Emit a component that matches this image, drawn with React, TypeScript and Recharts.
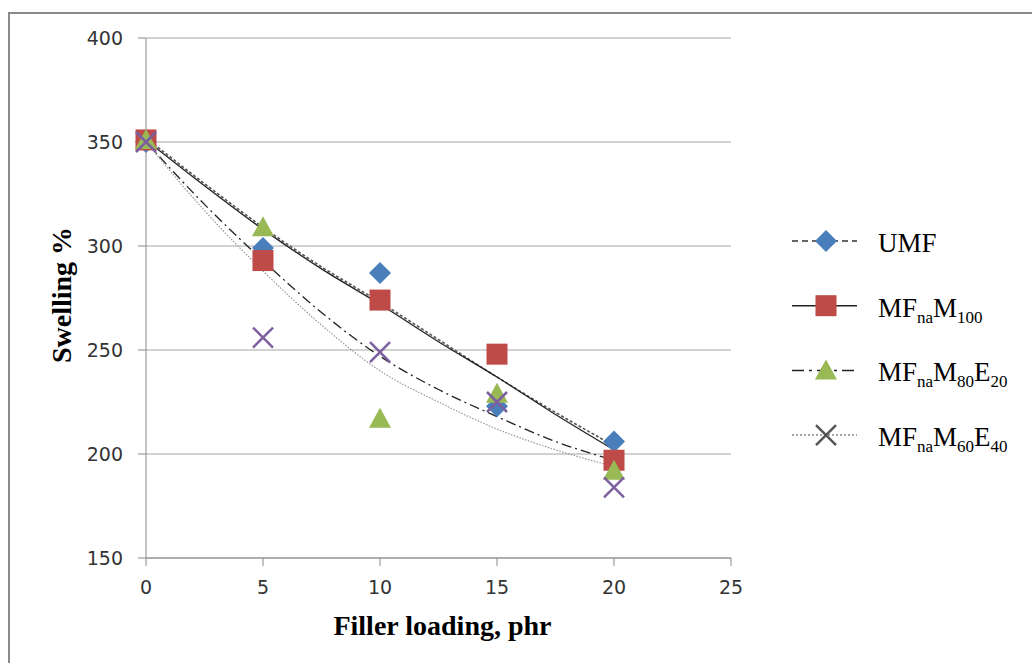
import React from "react";
import {
  CartesianGrid,
  ComposedChart,
  Line,
  Scatter,
  XAxis,
  YAxis,
} from "recharts";

// measured points (filler loading in phr vs swelling %)
const loading = [0, 5, 10, 15, 20];
const umf = [350, 299, 287, 223, 206];
const m100 = [351, 293, 274, 248, 197];
const m80e20 = [351, 309, 217, 229, 192];
const m60e40 = [350, 256, 249, 225, 184];

// polynomial trend lines
const trendLoading = [0, 2.5, 5, 7.5, 10, 12.5, 15, 17.5, 20];
const umfTrend = [352, 330, 309, 290, 273, 255, 237, 220, 204];
const m100Trend = [351, 329, 308, 289, 272, 254, 237, 219, 202];
const m80e20Trend = [350, 320, 293, 268, 247, 231, 218, 206, 197];
const m60e40Trend = [350, 317, 288, 262, 240, 225, 212, 202, 194];

const xTicks = [0, 5, 10, 15, 20, 25];
const yTicks = [150, 200, 250, 300, 350, 400];

const BLUE = "#4a7ebb";
const RED = "#be4b48";
const GREEN = "#98b954";
const PURPLE = "#7d5fa0";

const toPoints = (ys: number[]) => loading.map((x, i) => ({ x, y: ys[i] }));
const toTrend = (ys: number[]) => trendLoading.map((x, i) => ({ x, y: ys[i] }));

const Diamond = ({ cx, cy }: any) => (
  <polygon
    points={`${cx},${cy - 11} ${cx + 11},${cy} ${cx},${cy + 11} ${cx - 11},${cy}`}
    fill={BLUE}
  />
);
const Square = ({ cx, cy }: any) => (
  <rect x={cx - 10.5} y={cy - 10.5} width={21} height={21} fill={RED} />
);
const Triangle = ({ cx, cy }: any) => (
  <polygon
    points={`${cx},${cy - 11} ${cx + 11},${cy + 9} ${cx - 11},${cy + 9}`}
    fill={GREEN}
  />
);
const Cross = ({ cx, cy, color = PURPLE }: any) => (
  <g stroke={color} strokeWidth={2.5}>
    <line x1={cx - 10} y1={cy - 10} x2={cx + 10} y2={cy + 10} />
    <line x1={cx - 10} y1={cy + 10} x2={cx + 10} y2={cy - 10} />
  </g>
);

const tickFont = "'DejaVu Sans', Verdana, sans-serif";
const serif = "'Liberation Serif', 'Times New Roman', serif";

const Sub = ({ children }: any) => (
  <tspan fontSize={17} dy={6}>
    {children}
  </tspan>
);

const legendRows = [
  { key: "umf", dash: "6 4", stroke: "#333", marker: "diamond" },
  { key: "m100", dash: undefined, stroke: "#222", marker: "square" },
  { key: "m80", dash: "12 5 3 5", stroke: "#222", marker: "triangle" },
  { key: "m60", dash: "2 2", stroke: "#888", marker: "cross" },
];

const LegendLabel = ({ k, y }: { k: string; y: number }) => {
  const base = { x: 98, y, fontSize: 27, fontFamily: serif, fill: "#000" };
  if (k === "umf") return <text {...base}>UMF</text>;
  if (k === "m100")
    return (
      <text {...base}>
        MF<Sub>na</Sub>
        <tspan dy={-6}>M</tspan>
        <Sub>100</Sub>
      </text>
    );
  if (k === "m80")
    return (
      <text {...base}>
        MF<Sub>na</Sub>
        <tspan dy={-6}>M</tspan>
        <Sub>80</Sub>
        <tspan dy={-6}>E</tspan>
        <Sub>20</Sub>
      </text>
    );
  return (
    <text {...base}>
      MF<Sub>na</Sub>
      <tspan dy={-6}>M</tspan>
      <Sub>60</Sub>
      <tspan dy={-6}>E</tspan>
      <Sub>40</Sub>
    </text>
  );
};

const ChartLegend = () => (
  <svg width={250} height={270} style={{ position: "absolute", left: 780, top: 200 }}>
    {legendRows.map((r, i) => {
      const y = 41 + i * 64.7;
      return (
        <g key={r.key}>
          <line x1={12} x2={77} y1={y} y2={y} stroke={r.stroke} strokeWidth={1.5} strokeDasharray={r.dash} />
          {r.marker === "diamond" && <Diamond cx={46} cy={y} />}
          {r.marker === "square" && <Square cx={46} cy={y} />}
          {r.marker === "triangle" && <Triangle cx={46} cy={y} />}
          {r.marker === "cross" && <Cross cx={46} cy={y} color="#555" />}
          <LegendLabel k={r.key} y={y + 11} />
        </g>
      );
    })}
  </svg>
);

export default function App() {
  return (
    <div style={{ position: "absolute", left: 0, top: 0, width: 1032, height: 663, background: "#fff", overflow: "hidden" }}>
      <div
        style={{
          position: "absolute",
          left: 8,
          top: 12,
          width: 1100,
          height: 700,
          borderLeft: "2px solid #8a8a8a",
          borderTop: "2px solid #8a8a8a",
        }}
      />
      <ComposedChart
        width={1032}
        height={663}
        margin={{ top: 38, right: 301, left: 0, bottom: 0 }}
        style={{ position: "absolute", left: 0, top: 0 }}
      >
        <CartesianGrid horizontal vertical={false} stroke="#a6a6a6" strokeWidth={1.2} />
        <XAxis
          type="number"
          dataKey="x"
          domain={[0, 25]}
          ticks={xTicks}
          height={105}
          tickSize={8}
          tickMargin={15}
          stroke="#8a8a8a"
          tick={{ fill: "#333", fontSize: 19, fontFamily: tickFont }}
          allowDuplicatedCategory={false}
          label={({ viewBox }: any) => (
            <text
              x={viewBox.x + viewBox.width / 2 + 4}
              y={635}
              textAnchor="middle"
              fontSize={28}
              fontWeight="bold"
              fontFamily={serif}
              fill="#000"
            >
              Filler loading, phr
            </text>
          )}
        />
        <YAxis
          type="number"
          dataKey="y"
          domain={[150, 400]}
          ticks={yTicks}
          width={146}
          tickSize={8}
          tickMargin={15}
          stroke="#8a8a8a"
          tick={{ fill: "#333", fontSize: 19, fontFamily: tickFont }}
          label={() => (
            <text
              x={61}
              y={295}
              transform="rotate(-90 61 295)"
              textAnchor="middle"
              dominantBaseline="central"
              fontSize={28}
              fontWeight="bold"
              fontFamily={serif}
              fill="#000"
            >
              Swelling %
            </text>
          )}
        />
        <Scatter data={toPoints(umf)} dataKey="y" shape={Diamond} isAnimationActive={false} />
        <Scatter data={toPoints(m100)} dataKey="y" shape={Square} isAnimationActive={false} />
        <Scatter data={toPoints(m80e20)} dataKey="y" shape={Triangle} isAnimationActive={false} />
        <Scatter data={toPoints(m60e40)} dataKey="y" shape={Cross} isAnimationActive={false} />
        <Line data={toTrend(umfTrend)} dataKey="y" type="monotone" stroke="#555" strokeWidth={1.6} strokeDasharray="3 2" dot={false} isAnimationActive={false} />
        <Line data={toTrend(m100Trend)} dataKey="y" type="monotone" stroke="#222" strokeWidth={1.3} dot={false} isAnimationActive={false} />
        <Line data={toTrend(m80e20Trend)} dataKey="y" type="monotone" stroke="#222" strokeWidth={1.3} strokeDasharray="10 4 2 4" dot={false} isAnimationActive={false} />
        <Line data={toTrend(m60e40Trend)} dataKey="y" type="monotone" stroke="#999" strokeWidth={1.2} strokeDasharray="1.5 1.5" dot={false} isAnimationActive={false} />
      </ComposedChart>
      <ChartLegend />
    </div>
  );
}
